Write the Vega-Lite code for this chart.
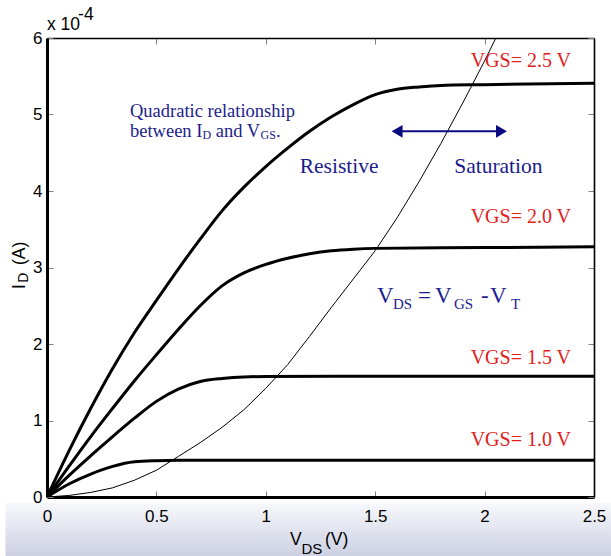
{
  "$schema": "https://vega.github.io/schema/vega-lite/v6.json",
  "width": 547,
  "height": 459,
  "autosize": {"type": "none"},
  "padding": {"left": 47, "top": 38, "right": 17, "bottom": 59},
  "background": "white",
  "config": {"view": {"stroke": null}, "axis": {"grid": false, "zindex": 1}},
  "resolve": {"axis": {"x": "independent", "y": "independent"}},
  "layer": [
    {
      "data": {"values": [{"xa": -0.19, "xb": 2.65, "ya": -0.078, "yb": -0.85}]},
      "mark": {"type": "rect", "clip": false, "fill": {"gradient": "linear", "x1": 0, "y1": 0, "x2": 0, "y2": 1, "stops": [{"offset": 0, "color": "#f7f8fb"}, {"offset": 1, "color": "#c8cce0"}]}},
      "encoding": {
        "x": {"field": "xa", "type": "quantitative", "scale": {"domain": [0, 2.5]}, "axis": null},
        "x2": {"field": "xb"},
        "y": {"field": "ya", "type": "quantitative", "scale": {"domain": [0, 6]}, "axis": null},
        "y2": {"field": "yb"}
      }
    },
    {
      "data": {"values": [
        {"v": 0, "i": 0, "g": "1.0"}, {"v": 0.1, "i": 0.17, "g": "1.0"}, {"v": 0.2, "i": 0.3, "g": "1.0"}, {"v": 0.3, "i": 0.4, "g": "1.0"}, {"v": 0.4, "i": 0.46, "g": "1.0"}, {"v": 0.5, "i": 0.475, "g": "1.0"}, {"v": 0.6, "i": 0.48, "g": "1.0"}, {"v": 1.0, "i": 0.48, "g": "1.0"}, {"v": 1.5, "i": 0.48, "g": "1.0"}, {"v": 2.0, "i": 0.48, "g": "1.0"}, {"v": 2.5, "i": 0.48, "g": "1.0"},
        {"v": 0, "i": 0, "g": "1.5"}, {"v": 0.1, "i": 0.28, "g": "1.5"}, {"v": 0.2, "i": 0.54, "g": "1.5"}, {"v": 0.3, "i": 0.79, "g": "1.5"}, {"v": 0.4, "i": 1.03, "g": "1.5"}, {"v": 0.5, "i": 1.25, "g": "1.5"}, {"v": 0.6, "i": 1.41, "g": "1.5"}, {"v": 0.7, "i": 1.51, "g": "1.5"}, {"v": 0.8, "i": 1.55, "g": "1.5"}, {"v": 0.9, "i": 1.57, "g": "1.5"}, {"v": 1.0, "i": 1.575, "g": "1.5"}, {"v": 1.5, "i": 1.58, "g": "1.5"}, {"v": 2.0, "i": 1.58, "g": "1.5"}, {"v": 2.5, "i": 1.58, "g": "1.5"},
        {"v": 0, "i": 0, "g": "2.0"}, {"v": 0.1, "i": 0.4, "g": "2.0"}, {"v": 0.2, "i": 0.79, "g": "2.0"}, {"v": 0.3, "i": 1.16, "g": "2.0"}, {"v": 0.4, "i": 1.52, "g": "2.0"}, {"v": 0.5, "i": 1.86, "g": "2.0"}, {"v": 0.6, "i": 2.19, "g": "2.0"}, {"v": 0.7, "i": 2.5, "g": "2.0"}, {"v": 0.8, "i": 2.76, "g": "2.0"}, {"v": 0.9, "i": 2.93, "g": "2.0"}, {"v": 1.0, "i": 3.04, "g": "2.0"}, {"v": 1.1, "i": 3.12, "g": "2.0"}, {"v": 1.2, "i": 3.18, "g": "2.0"}, {"v": 1.3, "i": 3.22, "g": "2.0"}, {"v": 1.4, "i": 3.24, "g": "2.0"}, {"v": 1.5, "i": 3.25, "g": "2.0"}, {"v": 2.0, "i": 3.26, "g": "2.0"}, {"v": 2.5, "i": 3.27, "g": "2.0"},
        {"v": 0, "i": 0, "g": "2.5"}, {"v": 0.1, "i": 0.6, "g": "2.5"}, {"v": 0.2, "i": 1.16, "g": "2.5"}, {"v": 0.3, "i": 1.68, "g": "2.5"}, {"v": 0.4, "i": 2.15, "g": "2.5"}, {"v": 0.5, "i": 2.57, "g": "2.5"}, {"v": 0.6, "i": 2.98, "g": "2.5"}, {"v": 0.7, "i": 3.37, "g": "2.5"}, {"v": 0.8, "i": 3.74, "g": "2.5"}, {"v": 0.9, "i": 4.05, "g": "2.5"}, {"v": 1.0, "i": 4.32, "g": "2.5"}, {"v": 1.1, "i": 4.56, "g": "2.5"}, {"v": 1.2, "i": 4.78, "g": "2.5"}, {"v": 1.3, "i": 4.97, "g": "2.5"}, {"v": 1.4, "i": 5.13, "g": "2.5"}, {"v": 1.5, "i": 5.26, "g": "2.5"}, {"v": 1.6, "i": 5.33, "g": "2.5"}, {"v": 1.7, "i": 5.36, "g": "2.5"}, {"v": 1.8, "i": 5.38, "g": "2.5"}, {"v": 2.0, "i": 5.39, "g": "2.5"}, {"v": 2.2, "i": 5.4, "g": "2.5"}, {"v": 2.5, "i": 5.41, "g": "2.5"}
      ]},
      "mark": {"type": "line", "color": "black", "strokeWidth": 3, "clip": true, "interpolate": "monotone"},
      "encoding": {
        "x": {"field": "v", "type": "quantitative", "scale": {"domain": [0, 2.5]},
          "axis": {"orient": "bottom", "zindex": 2, "title": null, "values": [0, 0.5, 1, 1.5, 2, 2.5], "format": "~g", "tickSize": -6, "tickColor": "#808080", "tickWidth": 1, "domainColor": "black", "domainWidth": 3, "labelFont": "Liberation Sans", "labelFontSize": 17, "labelColor": "black", "labelPadding": 17, "labelFlush": false, "labelOverlap": false}},
        "y": {"field": "i", "type": "quantitative", "scale": {"domain": [0, 6]},
          "axis": {"orient": "left", "zindex": 2, "title": null, "values": [0, 1, 2, 3, 4, 5, 6], "format": "d", "tickSize": -6, "tickColor": "#808080", "tickWidth": 1, "domainColor": "black", "domainWidth": 3, "labelFont": "Liberation Sans", "labelFontSize": 17, "labelColor": "black", "labelPadding": 11, "labelFlush": false, "labelOverlap": false}},
        "detail": {"field": "g", "type": "nominal"}
      }
    },
    {
      "data": {"values": [
        {"v": 0, "i": 0}, {"v": 0.1, "i": 0.02}, {"v": 0.2, "i": 0.06}, {"v": 0.3, "i": 0.12}, {"v": 0.4, "i": 0.22}, {"v": 0.5, "i": 0.35}, {"v": 0.6, "i": 0.53}, {"v": 0.7, "i": 0.71}, {"v": 0.8, "i": 0.91}, {"v": 0.9, "i": 1.14}, {"v": 1.0, "i": 1.42}, {"v": 1.1, "i": 1.73}, {"v": 1.2, "i": 2.1}, {"v": 1.3, "i": 2.48}, {"v": 1.4, "i": 2.85}, {"v": 1.5, "i": 3.22}, {"v": 1.6, "i": 3.65}, {"v": 1.7, "i": 4.12}, {"v": 1.8, "i": 4.62}, {"v": 1.9, "i": 5.15}, {"v": 2.0, "i": 5.7}, {"v": 2.06, "i": 6.05}
      ]},
      "mark": {"type": "line", "color": "black", "strokeWidth": 1, "clip": true},
      "encoding": {
        "x": {"field": "v", "type": "quantitative", "scale": {"domain": [0, 2.5]},
          "axis": {"orient": "top", "zindex": 2, "title": null, "labels": false, "values": [0, 0.5, 1, 1.5, 2, 2.5], "tickSize": -6, "tickColor": "#808080", "tickWidth": 1, "domainColor": "black", "domainWidth": 1.6}},
        "y": {"field": "i", "type": "quantitative", "scale": {"domain": [0, 6]},
          "axis": {"orient": "right", "zindex": 2, "title": null, "labels": false, "values": [0, 1, 2, 3, 4, 5, 6], "tickSize": -6, "tickColor": "#808080", "tickWidth": 1, "domainColor": "black", "domainWidth": 1.6}}
      }
    },
    {
      "data": {"values": [{"xa": 1.6, "xb": 2.077, "y": 4.78}]},
      "mark": {"type": "rule", "color": "#0a0a80", "strokeWidth": 2},
      "encoding": {
        "x": {"field": "xa", "type": "quantitative", "scale": {"domain": [0, 2.5]}, "axis": null},
        "x2": {"field": "xb"},
        "y": {"field": "y", "type": "quantitative", "scale": {"domain": [0, 6]}, "axis": null}
      }
    },
    {
      "data": {"values": [{"x": 1.6, "y": 4.78}]},
      "mark": {"type": "point", "shape": "triangle-left", "filled": true, "size": 160, "color": "#0a0a80", "opacity": 1},
      "encoding": {
        "x": {"field": "x", "type": "quantitative", "scale": {"domain": [0, 2.5]}, "axis": null},
        "y": {"field": "y", "type": "quantitative", "scale": {"domain": [0, 6]}, "axis": null}
      }
    },
    {
      "data": {"values": [{"x": 2.077, "y": 4.78}]},
      "mark": {"type": "point", "shape": "triangle-right", "filled": true, "size": 160, "color": "#0a0a80", "opacity": 1},
      "encoding": {
        "x": {"field": "x", "type": "quantitative", "scale": {"domain": [0, 2.5]}, "axis": null},
        "y": {"field": "y", "type": "quantitative", "scale": {"domain": [0, 6]}, "axis": null}
      }
    },
    {
      "data": {"values": [
        {"x": 0.3793, "y": 4.967, "t": "Quadratic relationship"},
        {"x": 0.3793, "y": 4.706, "t": "between I"},
        {"x": 0.7715, "y": 4.706, "t": "and V"},
        {"x": 1.0466, "y": 4.706, "t": "."}
      ]},
      "mark": {"type": "text", "font": "Liberation Serif", "fontSize": 18.5, "color": "#1c1c8c", "align": "left", "baseline": "alphabetic"},
      "encoding": {
        "x": {"field": "x", "type": "quantitative", "scale": {"domain": [0, 2.5]}, "axis": null},
        "y": {"field": "y", "type": "quantitative", "scale": {"domain": [0, 6]}, "axis": null},
        "text": {"field": "t", "type": "nominal"}
      }
    },
    {
      "data": {"values": [
        {"x": 0.7107, "y": 4.675, "t": "D"},
        {"x": 0.9758, "y": 4.675, "t": "GS"}
      ]},
      "mark": {"type": "text", "font": "Liberation Serif", "fontSize": 12, "color": "#1c1c8c", "align": "left", "baseline": "alphabetic"},
      "encoding": {
        "x": {"field": "x", "type": "quantitative", "scale": {"domain": [0, 2.5]}, "axis": null},
        "y": {"field": "y", "type": "quantitative", "scale": {"domain": [0, 6]}, "axis": null},
        "text": {"field": "t", "type": "nominal"}
      }
    },
    {
      "data": {"values": [
        {"x": 1.335, "y": 4.235, "t": "Resistive"},
        {"x": 2.063, "y": 4.235, "t": "Saturation"}
      ]},
      "mark": {"type": "text", "font": "Liberation Serif", "fontSize": 21.5, "color": "#1c1c8c", "align": "center", "baseline": "alphabetic"},
      "encoding": {
        "x": {"field": "x", "type": "quantitative", "scale": {"domain": [0, 2.5]}, "axis": null},
        "y": {"field": "y", "type": "quantitative", "scale": {"domain": [0, 6]}, "axis": null},
        "text": {"field": "t", "type": "nominal"}
      }
    },
    {
      "data": {"values": [
        {"x": 1.508, "y": 2.536, "t": "V"},
        {"x": 1.696, "y": 2.536, "t": "="},
        {"x": 1.773, "y": 2.536, "t": "V"},
        {"x": 1.984, "y": 2.536, "t": "-"},
        {"x": 2.025, "y": 2.536, "t": "V"}
      ]},
      "mark": {"type": "text", "font": "Liberation Serif", "fontSize": 23, "color": "#1c1c8c", "align": "left", "baseline": "alphabetic"},
      "encoding": {
        "x": {"field": "x", "type": "quantitative", "scale": {"domain": [0, 2.5]}, "axis": null},
        "y": {"field": "y", "type": "quantitative", "scale": {"domain": [0, 6]}, "axis": null},
        "text": {"field": "t", "type": "nominal"}
      }
    },
    {
      "data": {"values": [
        {"x": 1.581, "y": 2.458, "t": "DS"},
        {"x": 1.86, "y": 2.458, "t": "GS"},
        {"x": 2.121, "y": 2.458, "t": "T"}
      ]},
      "mark": {"type": "text", "font": "Liberation Serif", "fontSize": 15, "color": "#1c1c8c", "align": "left", "baseline": "alphabetic"},
      "encoding": {
        "x": {"field": "x", "type": "quantitative", "scale": {"domain": [0, 2.5]}, "axis": null},
        "y": {"field": "y", "type": "quantitative", "scale": {"domain": [0, 6]}, "axis": null},
        "text": {"field": "t", "type": "nominal"}
      }
    },
    {
      "data": {"values": [
        {"x": 2.395, "y": 5.62, "t": "VGS= 2.5 V"},
        {"x": 2.395, "y": 3.58, "t": "VGS= 2.0 V"},
        {"x": 2.395, "y": 1.74, "t": "VGS= 1.5 V"},
        {"x": 2.395, "y": 0.667, "t": "VGS= 1.0 V"}
      ]},
      "mark": {"type": "text", "font": "Liberation Serif", "fontSize": 20, "color": "#e3201b", "align": "right", "baseline": "alphabetic"},
      "encoding": {
        "x": {"field": "x", "type": "quantitative", "scale": {"domain": [0, 2.5]}, "axis": null},
        "y": {"field": "y", "type": "quantitative", "scale": {"domain": [0, 6]}, "axis": null},
        "text": {"field": "t", "type": "nominal"}
      }
    },
    {
      "data": {"values": [
        {"x": 0, "y": 6.105, "t": "x 10"},
        {"x": 0.142, "y": 6.235, "t": "-4"},
        {"x": 1.1106, "y": -0.63, "t": "V"},
        {"x": 1.27, "y": -0.63, "t": "(V)"}
      ]},
      "mark": {"type": "text", "font": "Liberation Sans", "fontSize": 17.5, "color": "black", "align": "left", "baseline": "alphabetic", "clip": false},
      "encoding": {
        "x": {"field": "x", "type": "quantitative", "scale": {"domain": [0, 2.5]}, "axis": null},
        "y": {"field": "y", "type": "quantitative", "scale": {"domain": [0, 6]}, "axis": null},
        "text": {"field": "t", "type": "nominal"}
      }
    },
    {
      "data": {"values": [
        {"x": 1.163, "y": -0.74, "t": "DS"}
      ]},
      "mark": {"type": "text", "font": "Liberation Sans", "fontSize": 15, "color": "black", "align": "left", "baseline": "alphabetic", "clip": false},
      "encoding": {
        "x": {"field": "x", "type": "quantitative", "scale": {"domain": [0, 2.5]}, "axis": null},
        "y": {"field": "y", "type": "quantitative", "scale": {"domain": [0, 6]}, "axis": null},
        "text": {"field": "t", "type": "nominal"}
      }
    },
    {
      "data": {"values": [
        {"x": -0.1005, "y": 2.719, "t": "I"},
        {"x": -0.1005, "y": 3.033, "t": "(A)"}
      ]},
      "mark": {"type": "text", "font": "Liberation Sans", "fontSize": 17.5, "color": "black", "align": "left", "baseline": "alphabetic", "angle": 270, "clip": false},
      "encoding": {
        "x": {"field": "x", "type": "quantitative", "scale": {"domain": [0, 2.5]}, "axis": null},
        "y": {"field": "y", "type": "quantitative", "scale": {"domain": [0, 6]}, "axis": null},
        "text": {"field": "t", "type": "nominal"}
      }
    },
    {
      "data": {"values": [
        {"x": -0.0868, "y": 2.8, "t": "D"}
      ]},
      "mark": {"type": "text", "font": "Liberation Sans", "fontSize": 14, "color": "black", "align": "left", "baseline": "alphabetic", "angle": 270, "clip": false},
      "encoding": {
        "x": {"field": "x", "type": "quantitative", "scale": {"domain": [0, 2.5]}, "axis": null},
        "y": {"field": "y", "type": "quantitative", "scale": {"domain": [0, 6]}, "axis": null},
        "text": {"field": "t", "type": "nominal"}
      }
    }
  ]
}
